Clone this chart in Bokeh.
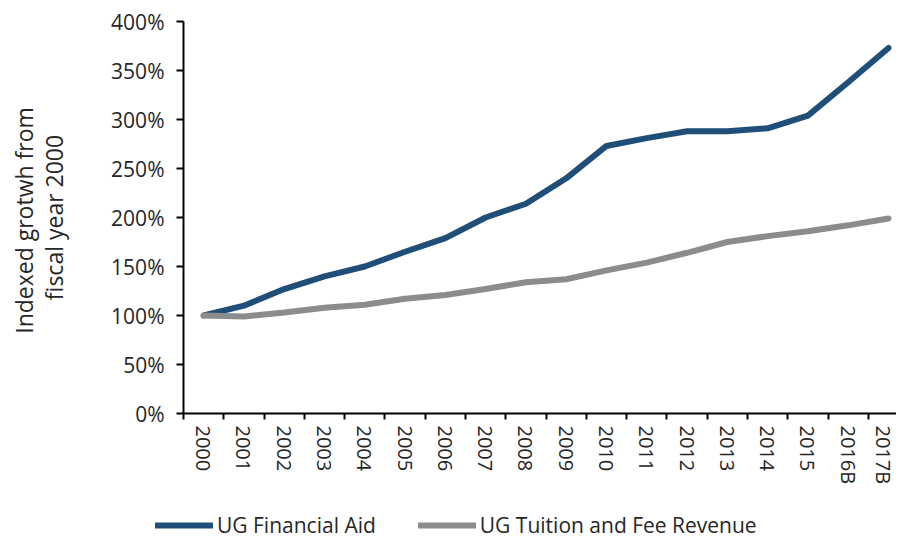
from bokeh.plotting import figure
from bokeh.models import Range1d, FixedTicker, PrintfTickFormatter, Legend, LegendItem
from bokeh.embed import file_html
from bokeh.resources import INLINE

years = ["2000", "2001", "2002", "2003", "2004", "2005", "2006", "2007", "2008",
         "2009", "2010", "2011", "2012", "2013", "2014", "2015", "2016B", "2017B"]
financial_aid = [100, 110, 127, 140, 150, 165, 179, 200, 214, 240, 273, 281,
                 288, 288, 291, 304, 338, 373]
tuition_revenue = [100, 99, 103, 108, 111, 117, 121, 127, 134, 137, 146, 154,
                   164, 175, 181, 186, 192, 199]
y_ticks = [0, 50, 100, 150, 200, 250, 300, 350, 400]
series_names = ["UG Financial Aid", "UG Tuition and Fee Revenue"]

FONT = "Open Sans"
BLUE = "#1F4E79"
GRAY = "#8C8C8C"
TXT = "#262626"

x = list(range(len(years)))
n = len(years)

# page geometry (pixels) -> ranges, so the axes can sit inside one frame
W, H = 896, 539
AX_LEFT, PLOT_TOP, AX_BOTTOM, LAST_X = 183, 21, 413, 888
kx = (LAST_X - AX_LEFT) / (n - 0.5)
ky = (AX_BOTTOM - PLOT_TOP) / y_ticks[-1]
x_start = -0.5 - AX_LEFT / kx
x_end = (n - 1) + (W - LAST_X) / kx
y_end = y_ticks[-1] + PLOT_TOP / ky
y_start = -(H - AX_BOTTOM) / ky

p = figure(width=W, height=H, output_backend="svg", toolbar_location=None,
           x_range=Range1d(x_start, x_end), y_range=Range1d(y_start, y_end),
           min_border=0, min_border_left=0, min_border_right=0,
           min_border_top=0, min_border_bottom=0)
p.outline_line_color = None
p.xgrid.grid_line_color = None
p.ygrid.grid_line_color = None

r1 = p.line(x, financial_aid, line_width=6, color=BLUE, line_cap="round", line_join="round")
r2 = p.line(x, tuition_revenue, line_width=6, color=GRAY, line_cap="round", line_join="round")

# y axis
yax = p.yaxis[0]
yax.fixed_location = -0.5
yax.bounds = (y_ticks[0], y_ticks[-1])
yax.ticker = FixedTicker(ticks=y_ticks)
yax.formatter = PrintfTickFormatter(format="%d%%")
yax.axis_line_color = "black"
yax.axis_line_width = 2
yax.major_tick_line_width = 2
yax.major_tick_out = 7
yax.major_tick_in = 0
yax.minor_tick_line_color = None
yax.major_label_text_font = FONT
yax.major_label_text_font_size = "21px"
yax.major_label_text_color = TXT
yax.major_label_standoff = 12
yax.axis_label = "Indexed  grotwh from\nfiscal year 2000"
yax.axis_label_text_font = FONT
yax.axis_label_text_font_size = "23px"
yax.axis_label_text_font_style = "normal"
yax.axis_label_text_color = TXT
yax.axis_label_text_line_height = 0.95
yax.axis_label_standoff = 38

# x axis
xax = p.xaxis[0]
xax.fixed_location = 0
xax.bounds = (-0.5, x_end)
xax.ticker = FixedTicker(ticks=x, minor_ticks=[i - 0.5 for i in range(n + 1)])
xax.major_label_overrides = {i: y for i, y in zip(x, years)}
xax.major_label_orientation = "vertical"
xax.axis_line_color = "black"
xax.axis_line_width = 2
xax.major_tick_line_color = None
xax.major_tick_out = 6
xax.major_tick_in = 0
xax.minor_tick_line_color = "black"
xax.minor_tick_line_width = 2
xax.minor_tick_out = 6
xax.minor_tick_in = 0
xax.major_label_text_font = FONT
xax.major_label_text_font_size = "20px"
xax.major_label_text_color = TXT
xax.major_label_standoff = 6

legend = Legend(items=[LegendItem(label=series_names[0], renderers=[r1]),
                       LegendItem(label=series_names[1], renderers=[r2])],
                orientation="horizontal", location=(155, 0))
legend.label_text_font = FONT
legend.label_text_font_size = "21px"
legend.label_text_color = TXT
legend.glyph_width = 58
legend.glyph_height = 20
legend.spacing = 42
legend.label_standoff = 4
legend.border_line_color = None
legend.background_fill_alpha = 0
legend.margin = 0
legend.padding = 0
p.add_layout(legend, "center")

open("out.html", "w").write(file_html(p, INLINE))
